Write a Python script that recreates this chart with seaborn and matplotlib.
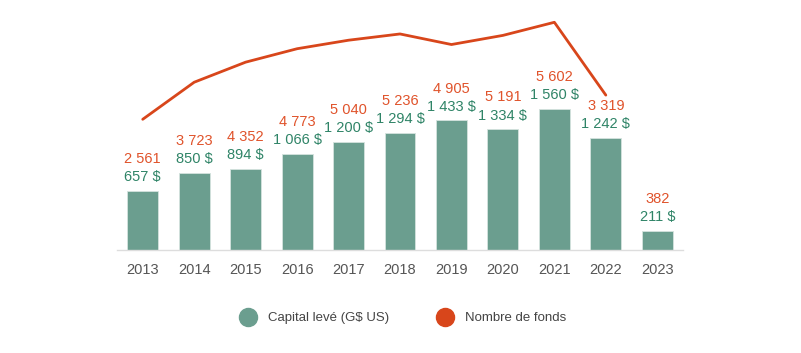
import numpy as np
import pandas as pd
import matplotlib.pyplot as plt
from matplotlib.lines import Line2D
import seaborn as sns

# ── DATA ──────────────────────────────────────────────────────────────────────
years = ["2013", "2014", "2015", "2016", "2017", "2018",
         "2019", "2020", "2021", "2022", "2023"]
capital = [657, 850, 894, 1066, 1200, 1294, 1433, 1334, 1560, 1242, 211]
fonds = [2561, 3723, 4352, 4773, 5040, 5236, 4905, 5191, 5602, 3319, 382]
n_line = 10  # 2023 is not drawn on the line

# ── STYLE ─────────────────────────────────────────────────────────────────────
sns.set_theme(style="white")
plt.rcParams["font.family"] = ["Liberation Sans", "DejaVu Sans"]
BAR_GREEN = "#6b9e8f"
TXT_GREEN = "#2f8467"
ORANGE = "#d8461b"
TXT_ORANGE = "#e0532b"
GRAY = "#555555"

def fmt(v, suffix=""):
    return f"{v:,}".replace(",", " ") + suffix

df = pd.DataFrame({"year": years, "capital": capital, "fonds": fonds})

fig = plt.figure(figsize=(8.01, 3.53), dpi=100)
ax = fig.add_axes([117 / 801, 1 - 250 / 353, (683 - 117) / 801, 240 / 353])

sns.barplot(data=df, x="year", y="capital", color=BAR_GREEN, saturation=1,
            width=0.6, edgecolor="#d5e3de", linewidth=0.6, ax=ax)
ax.set_xlim(-0.5, len(years) - 0.5)
ax.set_ylim(0, 2655)

ax2 = ax.twinx()
sns.lineplot(x=np.arange(n_line), y=fonds[:n_line], color=ORANGE, lw=2, ax=ax2)
ax2.set_ylim(-1536, 5987)

# value labels
for i, (c, f) in enumerate(zip(capital, fonds)):
    ax.annotate(fmt(c, " $"), xy=(i, c), xytext=(0, 10), textcoords="offset points",
                ha="center", va="center", fontsize=10.5, color=TXT_GREEN)
    ax.annotate(fmt(f), xy=(i, c), xytext=(0, 23), textcoords="offset points",
                ha="center", va="center", fontsize=10.5, color=TXT_ORANGE)

for a in (ax, ax2):
    for s in ("top", "right", "left"):
        a.spines[s].set_visible(False)
    a.set_yticks([])
    a.set_ylabel("")
ax2.spines["bottom"].set_visible(False)
ax.spines["bottom"].set_color("#dddddd")
ax.spines["bottom"].set_linewidth(1)
ax.set_xlabel("")
ax.tick_params(axis="x", length=0, pad=9, labelsize=10.5, labelcolor=GRAY)

handles = [
    Line2D([], [], marker="o", ls="", markersize=13, color=BAR_GREEN),
    Line2D([], [], marker="o", ls="", markersize=13, color=ORANGE),
]
fig.legend(handles, ["Capital levé (G$ US)", "Nombre de fonds"],
           loc="center", bbox_to_anchor=(0.5, 1 - 318 / 353), ncol=2,
           frameon=False, fontsize=9.5, columnspacing=3.2, handletextpad=0.5,
           labelcolor="#444444")

plt.savefig("out.png", dpi=100)
plt.close()
